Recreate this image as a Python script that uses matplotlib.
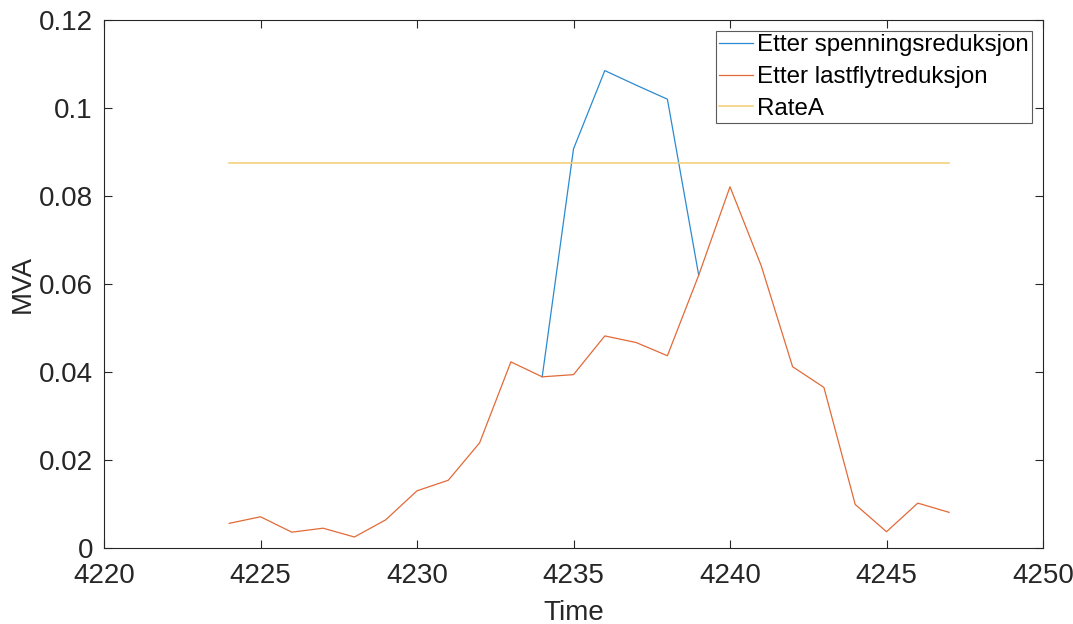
import matplotlib
matplotlib.use("Agg")
import matplotlib.pyplot as plt

# Hourly loading of the line (MVA)
time = list(range(4224, 4248))
etter_lastfly = [0.0056, 0.0071, 0.0036, 0.0045, 0.0025, 0.0064, 0.0130, 0.0154,
                 0.0239, 0.0423, 0.0389, 0.0394, 0.0482, 0.0467, 0.0437, 0.0620,
                 0.0821, 0.0641, 0.0412, 0.0365, 0.0099, 0.0037, 0.0102, 0.0081]
# Voltage-reduction case differs only in hours 4234-4239
time_spenning = [4234, 4235, 4236, 4237, 4238, 4239]
etter_spenning = [0.0389, 0.0907, 0.1085, 0.1052, 0.1020, 0.0620]
rate_a = [0.0874] * len(time)

xlim = (4220, 4250)
ylim = (0, 0.12)
xticks = [4220, 4225, 4230, 4235, 4240, 4245, 4250]
yticks = [0, 0.02, 0.04, 0.06, 0.08, 0.1, 0.12]
yticklabels = ["0", "0.02", "0.04", "0.06", "0.08", "0.1", "0.12"]

plt.rcParams["font.family"] = ["Liberation Sans", "DejaVu Sans"]
axis_col = "#262626"

fig = plt.figure(figsize=(10.73, 6.24), dpi=100)
ax = fig.add_axes([104 / 1073, 76 / 624, (1043 - 104) / 1073, (548 - 20) / 624])

ax.plot(time_spenning, etter_spenning, color="#2B8BD0", lw=0.9,
        label="Etter spenningsreduksjon")
ax.plot(time, etter_lastfly, color="#E26A38", lw=0.9, label="Etter lastflytreduksjon")
ax.plot(time, rate_a, color="#F2CD72", lw=1.1, label="RateA")

ax.set_xlim(*xlim)
ax.set_ylim(*ylim)
ax.set_xticks(xticks)
ax.set_yticks(yticks)
ax.set_yticklabels(yticklabels)

ax.tick_params(direction="in", length=6, width=0.8, colors=axis_col,
               labelsize=20, top=True, right=True)
ax.tick_params(axis="x", pad=10.5)
ax.tick_params(axis="y", pad=8)
for s in ax.spines.values():
    s.set_color(axis_col)
    s.set_linewidth(0.8)

ax.set_xlabel("Time", fontsize=20, color=axis_col, labelpad=8)
ax.set_ylabel("MVA", fontsize=20, color=axis_col, labelpad=2)

leg = ax.legend(loc="upper right", fontsize=17.4, frameon=True, fancybox=False,
                edgecolor="#5a5a5a", framealpha=1, handlelength=1.4,
                handletextpad=0.15, labelspacing=0.4, borderpad=0.15,
                borderaxespad=0.45)
leg.get_frame().set_linewidth(0.8)
for t in leg.get_texts():
    t.set_color("black")

fig.savefig("out.png", dpi=100)
